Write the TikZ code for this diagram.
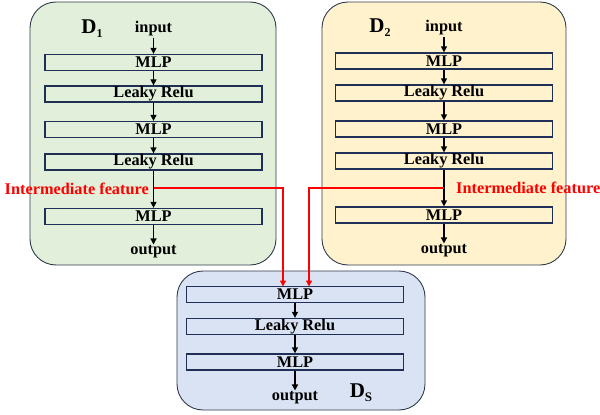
\documentclass[tikz,border=0pt]{standalone}
\usepackage{fontspec}
\setmainfont{Liberation Serif}
\usetikzlibrary{arrows.meta}
\definecolor{gfill}{HTML}{E2EFDA}
\definecolor{yfill}{HTML}{FFF2CC}
\definecolor{bfill}{HTML}{DAE3F3}
\definecolor{outerline}{HTML}{2F3B4C}
\definecolor{innerline}{HTML}{1F2F55}
\definecolor{featred}{HTML}{FF0000}
\begin{document}
\begin{tikzpicture}[x=1pt,y=-1pt,
  panel/.style={draw=outerline,line width=0.9pt,rounded corners=26pt},
  layer/.style={draw=innerline,line width=1.3pt,minimum width=217pt,minimum height=16pt,inner sep=0pt,
    font=\fontsize{16.3}{18}\selectfont\bfseries},
  lbl/.style={inner sep=1pt,font=\fontsize{16.3}{18}\selectfont\bfseries},
  feat/.style={inner sep=0pt,text=featred,font=\fontsize{16.3}{18}\selectfont\bfseries},
  flow/.style={line width=1.3pt,-{Triangle[length=6pt,width=6pt]}},
  redflow/.style={draw=featred,line width=1.3pt,-{Triangle[length=6pt,width=6pt]}},
  dname/.style={inner sep=0pt,font=\fontsize{21}{24}\selectfont\bfseries}]
\useasboundingbox (0,0) rectangle (600,415);
% panels
\draw[panel,fill=gfill] (30,2) rectangle (276,265);
\draw[panel,fill=yfill] (322,2) rectangle (566,265);
\draw[panel,fill=bfill] (177,271) rectangle (425,410);
% D1
\node[dname] (d1name) at (92,29) {D\raisebox{-4pt}{\fontsize{12}{12}\selectfont 1}};
\node[lbl] (in1) at (153.5,29) {input};
\node[layer,fill=gfill] (a1) at (153.5,62.5) {MLP};
\node[layer,fill=gfill] (a2) at (153.5,94) {Leaky Relu};
\node[layer,fill=gfill] (a3) at (153.5,129.5) {MLP};
\node[layer,fill=gfill] (a4) at (153.5,162) {Leaky Relu};
\node[layer,fill=gfill] (a5) at (153.5,216.5) {MLP};
\node[lbl] (out1) at (153.5,252) {output};
\node[feat,anchor=east] (f1) at (149,189) {Intermediate feature};
\coordinate (t1) at (153.5,188);
\draw[flow] (in1) -- (a1);
\draw[flow] (a1) -- (a2);
\draw[flow] (a2) -- (a3);
\draw[flow] (a3) -- (a4);
\draw[flow] (a4) -- (a5);
\draw[flow] (a5) -- (out1);
% D2
\node[dname] (d2name) at (380,28) {D\raisebox{-4pt}{\fontsize{12}{12}\selectfont 2}};
\node[lbl] (in2) at (444,28) {input};
\node[layer,fill=yfill] (b1) at (444,61) {MLP};
\node[layer,fill=yfill] (b2) at (444,93) {Leaky Relu};
\node[layer,fill=yfill] (b3) at (444,129) {MLP};
\node[layer,fill=yfill] (b4) at (444,161) {Leaky Relu};
\node[layer,fill=yfill] (b5) at (444,215) {MLP};
\node[lbl] (out2) at (444,251) {output};
\node[feat,anchor=west] (f2) at (456,188) {Intermediate feature};
\coordinate (t2) at (444,188);
\draw[flow] (in2) -- (b1);
\draw[flow] (b1) -- (b2);
\draw[flow] (b2) -- (b3);
\draw[flow] (b3) -- (b4);
\draw[flow] (b4) -- (b5);
\draw[flow] (b5) -- (out2);
% Ds
\node[layer,fill=bfill] (c1) at (295,294.5) {MLP};
\node[layer,fill=bfill] (c2) at (295,326.5) {Leaky Relu};
\node[layer,fill=bfill] (c3) at (295,362) {MLP};
\node[lbl] (out3) at (295,398) {output};
\node[dname] (dsname) at (361,393) {D\raisebox{-4pt}{\fontsize{13}{13}\selectfont S}};
\draw[flow] (c1) -- (c2);
\draw[flow] (c2) -- (c3);
\draw[flow] (c3) -- (out3);
% feature connectors
\draw[redflow] (t1) -- (283,188) -- (283,286.5);
\draw[redflow] (t2) -- (309,188) -- (309,286.5);
\end{tikzpicture}
\end{document}
